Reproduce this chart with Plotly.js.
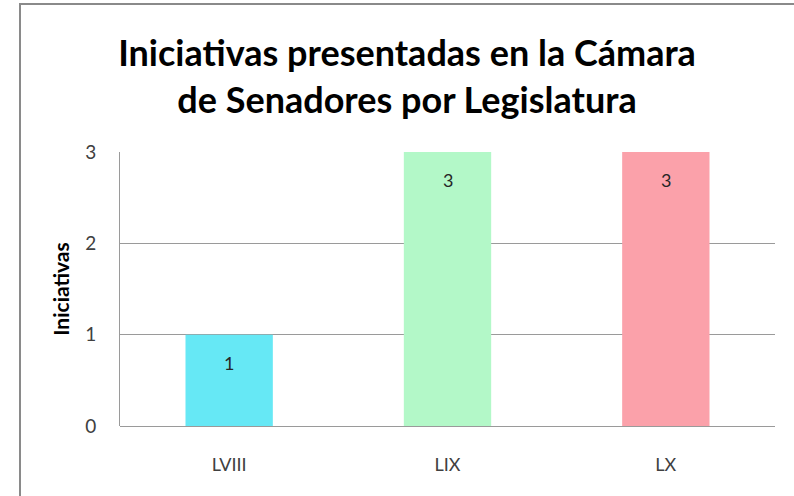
<!DOCTYPE html>
<html>
<head>
<meta charset="utf-8">
<script src="https://cdn.plot.ly/plotly-3.0.1.min.js"></script>
<style>
  html, body { margin: 0; padding: 0; background: #fff; }
  #wrap { position: relative; width: 794px; height: 496px; }
  #chart { width: 794px; height: 496px; }
  #frame { position: absolute; left: 19px; top: 3px; width: 800px; height: 500px;
           border-top: 2px solid #8a8a8a; border-left: 2px solid #8a8a8a; pointer-events: none; }
</style>
</head>
<body>
<div id="wrap">
  <div id="chart"></div>
  <div id="frame"></div>
</div>
<script>
const legislaturas = ["LVIII", "LIX", "LX"];
const iniciativas = [1, 3, 3];
const barColors = ["#66E8F5", "#B3F8C8", "#FBA1AA"];
const yTicks = [0, 1, 2, 3];
const titleText = "Iniciativas presentadas en la Cámara<br>de Senadores por Legislatura";
const yTitle = "Iniciativas";

const trace = {
  type: "bar",
  x: legislaturas,
  y: iniciativas,
  marker: { color: barColors, line: { width: 0 } },
  width: 0.4,
  hoverinfo: "none"
};

const annotations = legislaturas.map((c, i) => ({
  x: c, y: iniciativas[i], xref: "x", yref: "y",
  text: String(iniciativas[i]), showarrow: false,
  yshift: -28,
  font: { family: "Lato, 'Open Sans', sans-serif", size: 18, color: "#262626" }
}));

const layout = {
  width: 794, height: 496,
  margin: { l: 120, r: 19, t: 152, b: 70 },
  paper_bgcolor: "#ffffff",
  plot_bgcolor: "#ffffff",
  showlegend: false,
  title: {
    text: titleText,
    x: 407 / 794, xref: "container", xanchor: "center",
    y: 1 - 66 / 496, yref: "container", yanchor: "middle",
    font: { family: "Lato, sans-serif", size: 36, color: "#000000", weight: "bold" }
  },
  xaxis: {
    type: "category",
    showgrid: false,
    zeroline: false,
    showline: false,
    ticks: "",
    ticklabelstandoff: 26,
    tickfont: { family: "Lato, 'Open Sans', sans-serif", size: 18, color: "#404040" }
  },
  yaxis: {
    range: [0, 3],
    tickvals: yTicks,
    ticktext: yTicks.map(String),
    showgrid: true,
    gridcolor: "#9a9a9a",
    gridwidth: 1,
    zeroline: true,
    zerolinecolor: "#9a9a9a",
    zerolinewidth: 1,
    showline: true,
    linecolor: "#9a9a9a",
    linewidth: 1,
    ticks: "",
    ticklabelstandoff: 19,
    tickfont: { family: "Lato, 'Open Sans', sans-serif", size: 19, color: "#404040" },
    title: {
      text: yTitle,
      standoff: 9,
      font: { family: "Lato, 'Open Sans', sans-serif", size: 21, color: "#000000", weight: "bold" }
    }
  },
  annotations: annotations
};

Plotly.newPlot("chart", [trace], layout, { displayModeBar: false, staticPlot: true });
</script>
</body>
</html>
